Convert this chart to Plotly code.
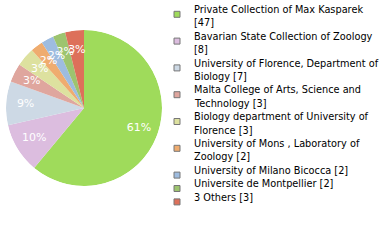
import plotly.graph_objects as go

labels = [
    "Private Collection of Max Kasparek<br>[47]",
    "Bavarian State Collection of Zoology<br>[8]",
    "University of Florence, Department of<br>Biology [7]",
    "Malta College of Arts, Science and<br>Technology [3]",
    "Biology department of University of<br>Florence [3]",
    "University of Mons , Laboratory of<br>Zoology [2]",
    "University of Milano Bicocca [2]",
    "Universite de Montpellier [2]",
    "3 Others [3]",
]
values = [47, 8, 7, 3, 3, 2, 2, 2, 3]
colors = ["#9fdb5b", "#dcbddf", "#cdd9e5", "#dfa69e", "#dde19f",
          "#efac6f", "#9ebcdf", "#9dc46f", "#dd705a"]

total = sum(values)
pct_text = [f"{int(v * 100 // total)}%" for v in values]

# slice geometry in degrees, clockwise from the top
widths = [v / total * 360 for v in values]
mid_theta = []
acc = 0
for v in values:
    mid_theta.append((acc + v / 2) / total * 360)
    acc += v

W, H = 380, 240
dom = dict(x=[6 / W, 162 / W], y=[(H - 186) / H, (H - 30) / H])

fig = go.Figure()
fig.add_trace(go.Barpolar(
    r=[1] * len(values), theta=mid_theta, width=widths,
    marker=dict(color=colors, line=dict(width=0)),
    hoverinfo="skip", showlegend=False,
))
fig.add_trace(go.Scatterpolar(
    r=[0.75] * len(values), theta=mid_theta, text=pct_text,
    mode="text", textposition="middle center",
    textfont=dict(color="white", size=11, family="DejaVu Sans"),
    hoverinfo="skip", showlegend=False,
))

# legend drawn at the right
x_sq, x_txt = 174 / W, 192 / W
pitch = 13.4
line_idx = 0
for lab, col in zip(labels, colors):
    lines = lab.split("<br>")
    top = 11.3 + pitch * line_idx
    fig.add_shape(type="rect", xref="paper", yref="paper",
                  x0=x_sq, x1=x_sq + 6 / W,
                  y0=1 - top / H, y1=1 - (top + 6) / H,
                  fillcolor=col, line=dict(color="#777777", width=1))
    for ln in lines:
        yc = 9.5 + pitch * line_idx
        fig.add_annotation(text=ln, xref="paper", yref="paper",
                           x=x_txt, y=1 - yc / H, xanchor="left", yanchor="middle",
                           showarrow=False,
                           font=dict(family="DejaVu Sans", size=9.75, color="black"))
        line_idx += 1

fig.update_layout(
    width=W, height=H,
    margin=dict(l=0, r=0, t=0, b=0, autoexpand=False),
    paper_bgcolor="white",
    showlegend=False,
    polar=dict(
        domain=dom, bgcolor="rgba(0,0,0,0)", bargap=0,
        radialaxis=dict(range=[0, 1], visible=False, showgrid=False),
        angularaxis=dict(rotation=90, direction="clockwise", visible=False,
                         showgrid=False),
    ),
)

fig.write_html("out.html")
